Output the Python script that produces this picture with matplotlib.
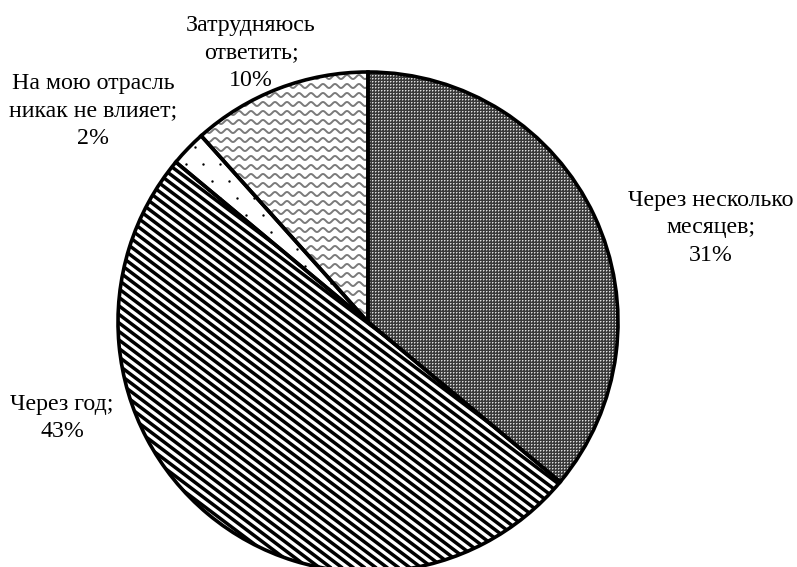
import numpy as np
import matplotlib
matplotlib.use("Agg")
import matplotlib.pyplot as plt
from matplotlib.patches import Wedge

plt.rcParams['font.family'] = ['Liberation Serif', 'DejaVu Serif']

labels = ["Через несколько\nмесяцев;", "Через год;", "На мою отрасль\nникак не влияет;", "Затрудняюсь\nответить;"]
values = [31, 43, 2, 10]

W, H = 797, 567
fig = plt.figure(figsize=(W / 100, H / 100), dpi=100)
ax = fig.add_axes([0, 0, 1, 1])
cx, cy, R = 368, 322, 250
x0, x1 = -cx / R, (W - cx) / R
y0, y1 = -(H - cy) / R, cy / R
ax.set_xlim(x0, x1)
ax.set_ylim(y0, y1)
ax.axis('off')

total = sum(values)
angles = [90]
for v in values:
    angles.append(angles[-1] - v / total * 360)

px = 1 / R  # one pixel in data units

# slice 0: dark fill with a fine grid of light points (pixel texture)
f0 = Wedge((0, 0), 1, angles[1], angles[0], facecolor='#3a3a3a', lw=0)
ax.add_patch(f0)
cell = np.array([[220, 138, 58],
                 [138, 58, 58],
                 [58, 58, 58]], dtype=float) / 255
tex = np.tile(cell, (H // 3 + 1, W // 3 + 1))[:H, :W]
im = ax.imshow(tex, cmap='gray', vmin=0, vmax=1, extent=(x0, x1, y0, y1),
               interpolation='nearest', aspect='auto', zorder=2)
im.set_clip_path(f0)

# slice 1: diagonal stripes
f1 = Wedge((0, 0), 1, angles[2], angles[1], facecolor='white', lw=0)
ax.add_patch(f1)
th = np.deg2rad(-37)
d = np.array([np.cos(th), np.sin(th)])
n = np.array([-np.sin(th), np.cos(th)])
t = np.array([-1.6, 1.6])
for o in np.arange(-1.5, 1.5, 6.8 * px):
    p = o * n[:, None] + d[:, None] * t
    ln, = ax.plot(p[0], p[1], color='black', lw=2.5, solid_capstyle='butt', zorder=2)
    ln.set_clip_path(f1)

# slice 2: sparse dots
f2 = Wedge((0, 0), 1, angles[3], angles[2], facecolor='white', lw=0)
ax.add_patch(f2)
gx = np.arange(-1, 1, 17 * px)
for j, yy in enumerate(np.arange(-1, 1, 17 * px)):
    xs = gx + (8.5 * px if j % 2 else 0)
    pts = ax.scatter(xs, np.full_like(xs, yy), s=3, color='black', lw=0, zorder=2)
    pts.set_clip_path(f2)

# slice 3: wavy lines
f3 = Wedge((0, 0), 1, angles[4], angles[3], facecolor='white', lw=0)
ax.add_patch(f3)
xw = np.linspace(-1, 1, 1400)
for yy in np.arange(-1, 1.05, 9 * px):
    ln, = ax.plot(xw, yy + 2.0 * px * np.sin(2 * np.pi * xw / (12 * px)), color='#7a7a7a', lw=1.4, zorder=2)
    ln.set_clip_path(f3)

# outlines
for i in range(len(values)):
    ax.add_patch(Wedge((0, 0), 1, angles[i + 1], angles[i], facecolor='none', edgecolor='black', lw=2.6, zorder=3))

pcts = [f"{v}%" for v in values]
pos = [(711, 228), (62, 418), (93, 111), (251, 53)]
for lab, pc, (x, y) in zip(labels, pcts, pos):
    ax.text((x - cx) / R, (cy - y) / R, lab + "\n" + pc, ha='center', va='center',
            fontsize=17.2, linespacing=1.42)

fig.savefig("out.png", dpi=100)
